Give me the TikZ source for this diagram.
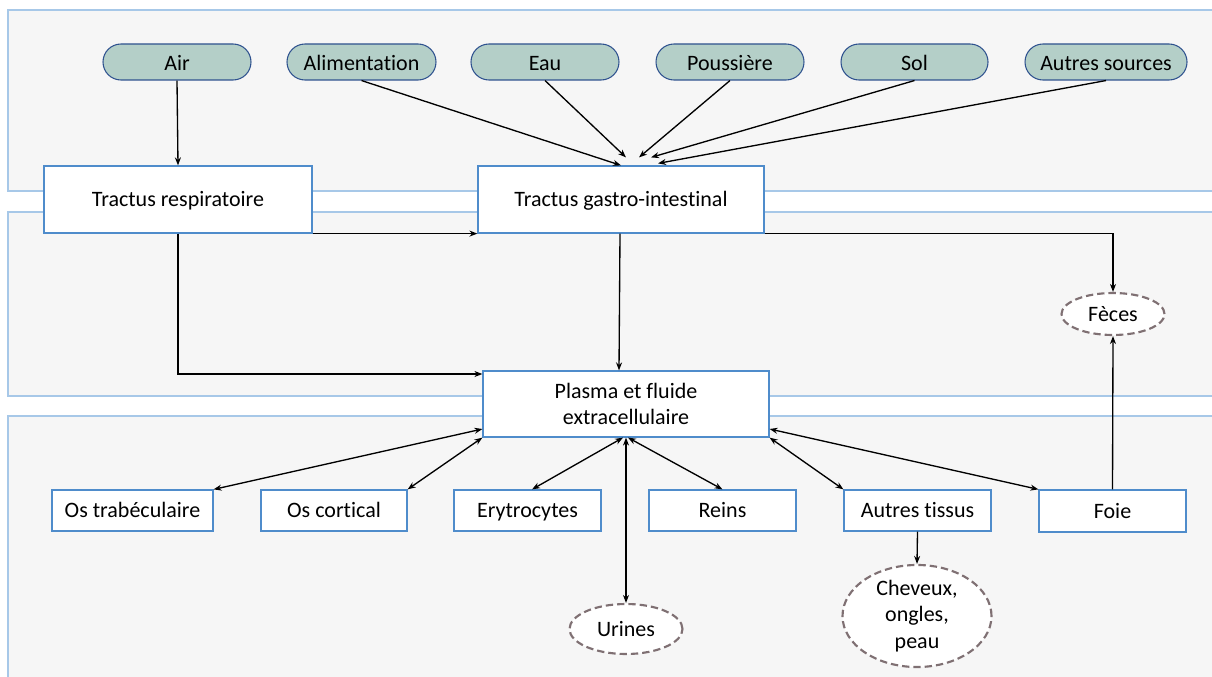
\documentclass[tikz,border=0pt]{standalone}
\usepackage{fontspec}
\setmainfont{Carlito}[Ligatures=CommonOff]
\usetikzlibrary{arrows.meta,shapes.geometric}
\definecolor{panelfill}{HTML}{F6F6F6}
\definecolor{panelline}{HTML}{A7C8E8}
\definecolor{boxline}{HTML}{4F8CCB}
\definecolor{pillfill}{HTML}{B4CFC8}
\definecolor{pillline}{HTML}{2F528F}
\definecolor{dashline}{HTML}{7F7073}
\tikzset{
  txt/.style={font=\fontsize{16.5}{20}\selectfont},
  oneline/.style={text height=12.5pt, text depth=2pt},
  lowline/.style={text height=14.5pt, text depth=1pt},
  panel/.style={draw=panelline, fill=panelfill, line width=1.2pt},
  pill/.style={draw=pillline, fill=pillfill, rounded corners=13.5pt, minimum height=27pt, inner sep=0pt, line width=0.8pt, txt, lowline},
  boxnode/.style={draw=boxline, fill=white, inner sep=0pt, line width=0.9pt, txt},
  outnode/.style={ellipse, draw=dashline, fill=white, inner sep=0pt, line width=1.6pt, dash pattern=on 5.5pt off 3pt, txt, align=center},
  arr/.style={line width=1pt, -{Stealth[length=6pt,width=4.5pt]}},
  darr/.style={line width=1pt, {Stealth[length=6pt,width=4.5pt]}-{Stealth[length=6pt,width=4.5pt]}}
}
\begin{document}
\begin{tikzpicture}[x=0.75pt,y=-0.75pt]
\useasboundingbox (0,0) rectangle (1212,677);
\clip (0,0) rectangle (1212,677);
% panels
\draw[panel] (8,10) rectangle (1240,191);
\draw[panel] (8,212) rectangle (1240,396);
\draw[panel] (8,416) rectangle (1240,700);
% sources
\node[pill, minimum width=111pt] (air) at (177,62) {Air};
\node[pill, minimum width=111.75pt] (alim) at (361.5,62) {Alimentation};
\node[pill, minimum width=111pt] (eau) at (545,62) {Eau};
\node[pill, minimum width=111pt] (pous) at (730,62) {Poussière};
\node[pill, minimum width=110.25pt] (sol) at (914.5,62) {Sol};
\node[pill, minimum width=121.5pt] (autsrc) at (1106,62) {Autres sources};
% tracts
\node[boxnode, oneline, minimum width=201pt, minimum height=50.25pt] (tr) at (178,199.5) {Tractus respiratoire};
\node[boxnode, oneline, minimum width=214.5pt, minimum height=50.25pt] (tgi) at (621,199.5) {Tractus gastro-intestinal};
\node[boxnode, minimum width=214.5pt, minimum height=49.5pt, align=center] (plasma) at (626,404) {Plasma et fluide\\extracellulaire};
% compartments
\node[boxnode, oneline, minimum width=120.75pt, minimum height=30.75pt] (ostrab) at (132.5,510.5) {Os trabéculaire};
\node[boxnode, oneline, minimum width=109.5pt, minimum height=30.75pt] (oscort) at (334,510.5) {Os cortical};
\node[boxnode, oneline, minimum width=110.25pt, minimum height=30.75pt] (ery) at (527.5,510.5) {Erytrocytes};
\node[boxnode, oneline, minimum width=110.25pt, minimum height=30.75pt] (reins) at (722.5,510.5) {Reins};
\node[boxnode, oneline, minimum width=110.25pt, minimum height=30.75pt] (autt) at (917.5,510.5) {Autres tissus};
\node[boxnode, oneline, minimum width=110.25pt, minimum height=31.5pt] (foie) at (1112.5,511) {Foie};
% outputs
\node[outnode, oneline, minimum width=77.25pt, minimum height=31.5pt] (feces) at (1113,314) {Fèces};
\node[outnode, oneline, minimum width=84.75pt, minimum height=37.5pt] (urines) at (626,629) {Urines};
\node[outnode, minimum width=111.75pt, minimum height=69.75pt] (chev) at (917,616) {Cheveux,\\ongles,\\peau};
% connectors: sources
\draw[arr] (air.south) -- (tr.north);
\draw[arr] (alim.south) -- (tgi.north);
\draw[arr] (eau.south) -- ([xshift=3.75pt,yshift=6pt]tgi.north);
\draw[arr] (pous.south) -- ([xshift=13.5pt,yshift=6pt]tgi.north);
\draw[arr] (sol.south) -- ([xshift=22.5pt,yshift=6pt]tgi.north);
\draw[arr] (autsrc.south) -- ([xshift=27.75pt,yshift=1.5pt]tgi.north);
% tracts
\draw[arr] (tr.south east) -- (tgi.south west);
\draw[arr] (tgi.south east) -| (feces.north);
\draw[arr] ([xshift=-0.75pt]tgi.south) -- ([xshift=-5.25pt]plasma.north);
\draw[arr] (tr.south) |- ([yshift=22.5pt]plasma.west);
% plasma exchanges
\draw[darr] ([yshift=-18.75pt]plasma.west) -- (ostrab.north east);
\draw[darr] (plasma.south west) -- (oscort.north east);
\draw[darr] ([xshift=-2.25pt]plasma.south) -- ([xshift=3.4pt]ery.north);
\draw[darr] (plasma.south) -- (urines.north);
\draw[darr] ([xshift=1.5pt]plasma.south) -- (reins.north);
\draw[darr] (plasma.south east) -- (autt.north west);
\draw[darr] ([yshift=-18.75pt]plasma.east) -- (foie.north west);
\draw[arr] (foie.north) -- (feces.south);
\draw[arr] (autt.south) -- (chev.north);
\end{tikzpicture}
\end{document}
